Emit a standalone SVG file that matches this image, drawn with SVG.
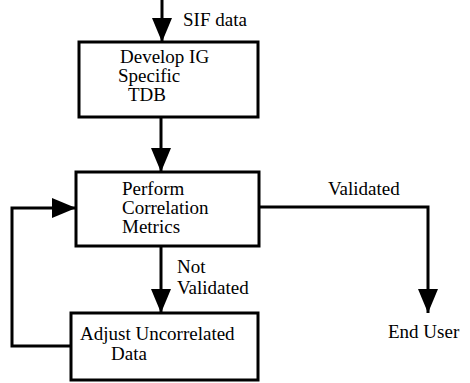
<svg xmlns="http://www.w3.org/2000/svg" width="470" height="383" viewBox="0 0 470 383">
<defs>
<style>
.box{fill:#fff;stroke:#000;stroke-width:3}
.ln{fill:none;stroke:#000;stroke-width:3}
.t{font-family:'Liberation Serif','Times New Roman',serif;font-size:19px;fill:#000}
</style>
<marker id="ah" markerUnits="userSpaceOnUse" markerWidth="24" markerHeight="20" refX="24" refY="10" orient="auto" viewBox="0 0 24 20">
<path d="M0,0 L24,10 L0,20 z" fill="#000"/>
</marker>
</defs>
<rect width="470" height="383" fill="#fff"/>
<g id="connectors">
<path class="ln" d="M162,0 V42" marker-end="url(#ah)"/>
<path class="ln" d="M161,117 V172" marker-end="url(#ah)"/>
<path class="ln" d="M259,207 H428 V313" marker-end="url(#ah)"/>
<path class="ln" d="M161,246 V313" marker-end="url(#ah)"/>
<path class="ln" d="M71,346 H12 V208 H76" marker-end="url(#ah)"/>
<text class="t" x="183" y="26">SIF data</text>
<text class="t" x="328" y="195">Validated</text>
<text class="t" x="177" y="273">Not</text>
<text class="t" x="177" y="294">Validated</text>
</g>
<g id="develop">
<rect class="box" x="79" y="42" width="179" height="75"/>
<text class="t" x="120" y="63">Develop IG</text>
<text class="t" x="118" y="82">Specific</text>
<text class="t" x="128" y="101">TDB</text>
</g>
<g id="perform">
<rect class="box" x="76" y="172" width="183" height="74"/>
<text class="t" x="122" y="195">Perform</text>
<text class="t" x="122" y="214">Correlation</text>
<text class="t" x="122" y="233">Metrics</text>
</g>
<g id="adjust">
<rect class="box" x="71" y="313" width="187" height="67"/>
<text class="t" x="80" y="340">Adjust Uncorrelated</text>
<text class="t" x="111" y="360">Data</text>
</g>
<g id="enduser">
<text class="t" x="388" y="338">End User</text>
</g>
</svg>
